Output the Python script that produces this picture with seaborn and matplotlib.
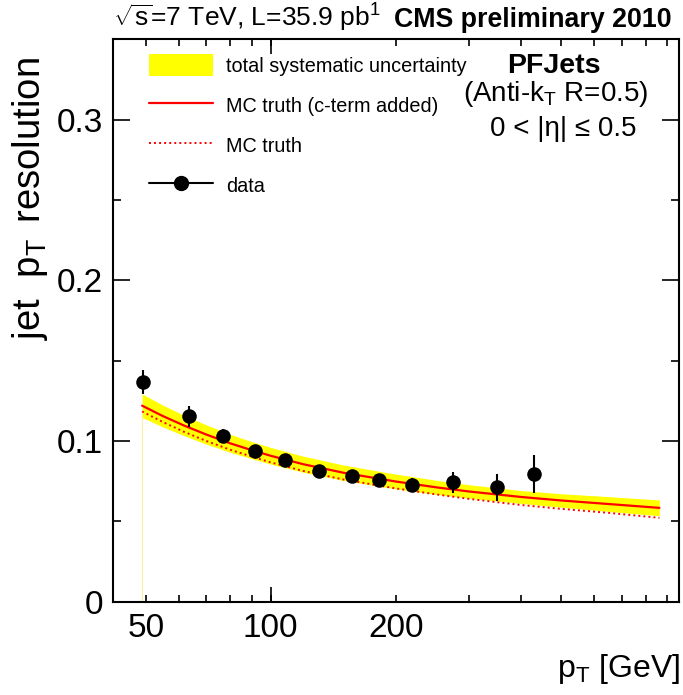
import numpy as np
import pandas as pd
import seaborn as sns
import matplotlib
matplotlib.use("Agg")
import matplotlib.pyplot as plt
from matplotlib.lines import Line2D
from matplotlib.patches import Patch
from matplotlib.ticker import FixedLocator, FuncFormatter, NullFormatter

# ---- measured jet pT resolution (data) ----
pt_data = [49.3, 63.6, 76.6, 91.7, 108.2, 130.9, 156.7, 182.0, 219.0, 275.3, 350.3, 431.4]
res_data = [0.1365, 0.1153, 0.1032, 0.0935, 0.0883, 0.0816, 0.0785, 0.0758, 0.0725, 0.0742, 0.0711, 0.0794]
res_err = [0.0075, 0.0067, 0.0040, 0.0035, 0.0032, 0.0030, 0.0030, 0.0032, 0.0045, 0.0067, 0.0085, 0.0117]

# ---- MC truth curves and systematic band ----
pt_mc = [49, 55, 62, 70, 80, 90, 100, 120, 150, 200, 250, 300, 400, 500, 650, 863]
res_mc_cterm = [0.1220, 0.1155, 0.1095, 0.1040, 0.0985, 0.0943, 0.0908, 0.0855, 0.0802,
                0.0748, 0.0712, 0.0686, 0.0652, 0.0630, 0.0608, 0.0584]
res_mc = [0.1184, 0.1118, 0.1056, 0.1000, 0.0945, 0.0903, 0.0867, 0.0813, 0.0760,
          0.0705, 0.0668, 0.0640, 0.0602, 0.0578, 0.0553, 0.0522]
band_lo = [0.1147, 0.1087, 0.1032, 0.0980, 0.0929, 0.0890, 0.0856, 0.0805, 0.0754,
           0.0702, 0.0668, 0.0644, 0.0612, 0.0588, 0.0562, 0.0535]
band_hi = [0.1293, 0.1223, 0.1158, 0.1100, 0.1041, 0.0996, 0.0960, 0.0905, 0.0850,
           0.0794, 0.0756, 0.0728, 0.0692, 0.0672, 0.0654, 0.0633]

x_ticklabels = {50: "50", 100: "100", 200: "200"}
y_major = [0.0, 0.1, 0.2, 0.3]

sns.set_style("ticks")
plt.rcParams["font.family"] = ["Liberation Sans", "DejaVu Sans"]
plt.rcParams["mathtext.fontset"] = "custom"
plt.rcParams["mathtext.rm"] = "Liberation Sans"
plt.rcParams["mathtext.it"] = "Liberation Sans:italic"
plt.rcParams["mathtext.bf"] = "Liberation Sans:bold"
for key in ["text.color", "axes.labelcolor", "xtick.color", "ytick.color", "axes.edgecolor"]:
    plt.rcParams[key] = "black"

mc = pd.DataFrame({"pt": pt_mc, "cterm": res_mc_cterm, "truth": res_mc,
                   "lo": band_lo, "hi": band_hi})
dat = pd.DataFrame({"pt": pt_data, "res": res_data, "err": res_err})

fig = plt.figure(figsize=(6.83, 6.95), dpi=100)
ax = fig.add_axes([113 / 683, 1 - 601.7 / 695, 566 / 683, 562.4 / 695])

# systematic band
ax.fill_between(mc["pt"], mc["lo"], mc["hi"], color="#ffff00", lw=0, zorder=1)
ax.plot([mc["pt"][0], mc["pt"][0]], [0, mc["lo"][0]], color="#f7f3a0", lw=0.8, zorder=1)

sns.lineplot(data=mc, x="pt", y="cterm", ax=ax, color="#ff0000", lw=1.6,
             estimator=None, sort=True, zorder=3)
sns.lineplot(data=mc, x="pt", y="truth", ax=ax, color="#ff0000", lw=1.4,
             linestyle=(0, (1, 1.6)), estimator=None, sort=True, zorder=2)

ax.errorbar(dat["pt"], dat["res"], yerr=dat["err"], fmt="none", ecolor="black",
            elinewidth=1.5, capsize=0, zorder=4)
sns.scatterplot(data=dat, x="pt", y="res", ax=ax, color="black", s=110,
                edgecolor="black", linewidth=0, zorder=5)

ax.set_xscale("log")
ax.set_xlim(41.7, 962)
ax.set_ylim(0, 0.35)
ax.set_xlabel("")
ax.set_ylabel("")

# x ticks: decade tick long, others short, labels on 50/100/200
ax.xaxis.remove_overlapping_locs = False
ax.xaxis.set_major_locator(FixedLocator([100]))
ax.xaxis.set_major_formatter(NullFormatter())
minor_x = [50, 60, 70, 80, 90, 100, 200, 300, 400, 500, 600, 700, 800, 900]
ax.xaxis.set_minor_locator(FixedLocator(minor_x))
ax.xaxis.set_minor_formatter(FuncFormatter(lambda v, p: x_ticklabels.get(int(round(v)), "")))

ax.yaxis.set_major_locator(FixedLocator(y_major))
ax.yaxis.set_major_formatter(FuncFormatter(lambda v, p: "0" if abs(v) < 1e-9 else f"{v:.1f}"))
ax.yaxis.set_minor_locator(FixedLocator([0.05, 0.15, 0.25]))

ax.tick_params(axis="both", which="both", direction="in", top=True, right=True,
               colors="black", width=1.2)
ax.tick_params(axis="x", which="major", length=11)
ax.tick_params(axis="x", which="minor", length=5, labelsize=24, pad=8)
ax.tick_params(axis="y", which="major", length=12.5, labelsize=24, pad=7)
ax.tick_params(axis="y", which="minor", length=6)
for sp in ax.spines.values():
    sp.set_linewidth(1.5)
    sp.set_color("black")
    sp.set_visible(True)

# axis titles
fig.text(30 / 683, 1 - 57 / 695, r"jet  p$_{\mathrm{T}}$$\,$ resolution", rotation=90,
         ha="center", va="top", fontsize=27.5)
fig.text(680 / 683, 1 - 677 / 695, r"p$_{\mathrm{T}}$ [GeV]", ha="right",
         va="baseline", fontsize=23)

# header
fig.text(113 / 683, 1 - 27 / 695, r"$\sqrt{\mathrm{s}}$=7 TeV, L=35.9 pb$^{1}$", ha="left",
         va="baseline", fontsize=19)
fig.text(672 / 683, 1 - 27 / 695, "CMS preliminary 2010", ha="right",
         va="baseline", fontsize=19.3, fontweight="bold")

# jet algorithm annotation
fig.text(554 / 683, 1 - 73 / 695, "PFJets", ha="center", va="baseline",
         fontsize=20.5, fontweight="bold")
fig.text(556 / 683, 1 - 101 / 695, r"(Anti-k$_{\mathrm{T}}$ R=0.5)", ha="center",
         va="baseline", fontsize=20)
fig.text(563 / 683, 1 - 136 / 695, "0 < |η| ≤ 0.5", ha="center",
         va="baseline", fontsize=20)

handles = [
    Patch(facecolor="#ffff00", edgecolor="none"),
    Line2D([], [], color="#ff0000", lw=1.6),
    Line2D([], [], color="#ff0000", lw=1.4, linestyle=(0, (1, 1.6))),
    Line2D([], [], color="black", lw=1.5, marker="o", markersize=10),
]
labels = ["total systematic uncertainty", "MC truth (c-term added)", "MC truth", "data"]
fig.legend(handles, labels, loc="upper left", bbox_to_anchor=(149 / 683, 1 - 54 / 695),
           bbox_transform=fig.transFigure, frameon=False, fontsize=14.3,
           borderpad=0, borderaxespad=0, handlelength=3.2, handleheight=1.35,
           handletextpad=0.7, labelspacing=0.9)

fig.savefig("out.png", dpi=100)
